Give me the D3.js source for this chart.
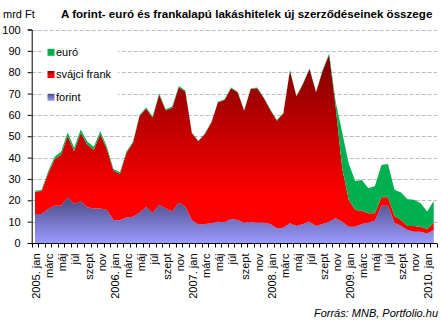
<!DOCTYPE html>
<html>
<head>
<meta charset="utf-8">
<script src="https://cdn.jsdelivr.net/npm/d3@7"></script>
<style>
  html, body { margin: 0; padding: 0; background: #fff; }
  svg { display: block; font-family: "Liberation Sans", Arial, sans-serif; }
</style>
</head>
<body>
<svg id="chart" width="442" height="323"></svg>
<script>
// Monthly categories, 2005 jan – 2010 feb
const years = [2005, 2006, 2007, 2008, 2009, 2010];
const monthNames = ["jan", "febr", "márc", "ápr", "máj", "jún", "júl", "aug", "szept", "okt", "nov", "dec"];
const categories = [];
years.forEach(yr => monthNames.forEach((m, k) => {
  if (yr === 2010 && k > 1) return;
  categories.push(k === 0 ? yr + ". " + m : m);
}));

// New housing loan contracts, billion HUF
const forint = [13.6, 13.6, 15.8, 17.5, 17.5, 21.3, 18.4, 19.4, 16.7, 16.2, 16.2, 15.5,
                10.8, 10.7, 12.0, 12.3, 14.2, 17.0, 14.0, 17.8, 16.2, 14.7, 18.9, 17.0,
                10.8, 8.7, 8.9, 9.2, 10.0, 9.7, 11.2, 10.8, 9.5, 9.8, 9.5, 9.5,
                8.9, 6.9, 7.2, 9.2, 8.0, 8.9, 10.0, 8.0, 8.9, 10.0, 11.6, 10.0,
                7.6, 7.6, 8.9, 9.5, 10.4, 17.5, 17.5, 9.5, 8.0, 6.1, 5.3, 5.3,
                4.5, 6.1];
const frank = [10.4, 10.7, 16.6, 21.7, 24.0, 28.8, 24.7, 32.2, 29.3, 27.5, 34.7, 28.4,
               23.1, 21.7, 30.3, 34.7, 45.3, 46.0, 44.7, 51.7, 45.9, 48.7, 54.1, 53.9,
               40.6, 38.9, 42.2, 47.3, 55.9, 57.3, 61.3, 59.8, 52.5, 62.3, 63.0, 58.4,
               53.4, 50.4, 53.5, 71.5, 60.6, 65.6, 71.5, 62.6, 71.7, 78.2, 52.1, 25.0,
               12.5, 7.9, 6.2, 4.4, 3.5, 3.9, 3.9, 3.1, 2.8, 1.9, 2.7, 2.3,
               1.9, 3.4];
const euro = [0.5, 0.5, 1.0, 1.2, 1.3, 1.6, 1.5, 1.6, 1.5, 1.4, 1.5, 1.2,
              0.8, 0.7, 0.5, 0.5, 0.5, 0.5, 0.5, 0.5, 0.5, 0.5, 0.5, 0.5,
              0.3, 0.3, 0.3, 0.3, 0.3, 0.3, 0.3, 0.3, 0.3, 0.3, 0.3, 0.3,
              0.3, 0.3, 0.3, 0.3, 0.3, 0.3, 0.3, 0.3, 0.4, 0.6, 2.5, 16.8,
              17.0, 13.5, 14.4, 11.7, 12.8, 15.1, 15.6, 12.4, 12.8, 12.5, 12.2, 11.0,
              8.3, 10.2];

const seriesKeys = ["forint", "frank", "euro"];
const seriesNames = { forint: "forint", frank: "svájci frank", euro: "euró" };
const yTicks = [0, 10, 20, 30, 40, 50, 60, 70, 80, 90, 100];

const rows = categories.map((c, i) => ({ idx: i, cat: c, forint: forint[i], frank: frank[i], euro: euro[i] }));

const svg = d3.select("#chart");
const plotLeft = 31.7, plotRight = 437, plotTop = 29.5, plotBottom = 243;

// Month labels repeat across years, so the band scale runs on the month index
const x = d3.scaleBand().domain(d3.range(categories.length)).range([plotLeft, plotRight]).paddingInner(0).paddingOuter(0);
const y = d3.scaleLinear().domain([0, 100]).range([plotBottom, plotTop]);
const cx = i => x(i) + x.bandwidth() / 2;

// Gradients
const defs = svg.append("defs");
const gFrank = defs.append("linearGradient").attr("id", "gFrank")
  .attr("gradientUnits", "userSpaceOnUse").attr("x1", 0).attr("x2", 0)
  .attr("y1", y(88)).attr("y2", y(22));
gFrank.append("stop").attr("offset", 0).attr("stop-color", "#7c0000");
gFrank.append("stop").attr("offset", 1).attr("stop-color", "#ff0000");
const gForint = defs.append("linearGradient").attr("id", "gForint")
  .attr("gradientUnits", "userSpaceOnUse").attr("x1", 0).attr("x2", 0)
  .attr("y1", y(21)).attr("y2", y(0));
gForint.append("stop").attr("offset", 0).attr("stop-color", "#4a4a86");
gForint.append("stop").attr("offset", 1).attr("stop-color", "#9b9bff");
const gLegFrank = defs.append("linearGradient").attr("id", "gLegFrank")
  .attr("x1", 0).attr("x2", 0).attr("y1", 0).attr("y2", 1);
gLegFrank.append("stop").attr("offset", 0).attr("stop-color", "#7c0000");
gLegFrank.append("stop").attr("offset", 0.55).attr("stop-color", "#ff0000");
const gLegForint = defs.append("linearGradient").attr("id", "gLegForint")
  .attr("x1", 0).attr("x2", 0).attr("y1", 0).attr("y2", 1);
gLegForint.append("stop").attr("offset", 0).attr("stop-color", "#4a4a86");
gLegForint.append("stop").attr("offset", 1).attr("stop-color", "#9b9bff");

const fills = { forint: "url(#gForint)", frank: "url(#gFrank)", euro: "#00b050" };
const legFills = { forint: "url(#gLegForint)", frank: "url(#gLegFrank)", euro: "#00b050" };

// Gridlines
svg.append("g").selectAll("line").data(yTicks.filter(v => v > 0)).join("line")
  .attr("x1", plotLeft).attr("x2", plotRight)
  .attr("y1", d => Math.round(y(d)) + 0.5).attr("y2", d => Math.round(y(d)) + 0.5)
  .attr("stroke", "#bdbdbd").attr("stroke-width", 1).attr("stroke-dasharray", "4,2");

// Stacked areas
const stacked = d3.stack().keys(seriesKeys)(rows);
const area = d3.area()
  .x(d => cx(d.data.idx))
  .y0(d => y(d[0]))
  .y1(d => y(d[1]));
svg.append("g").selectAll("path").data(stacked).join("path")
  .attr("d", area)
  .attr("fill", d => fills[d.key]);

// Legend
const leg = svg.append("g");
leg.append("rect").attr("x", 44).attr("y", 40).attr("width", 74).attr("height", 66).attr("fill", "#fff");
const legItems = ["euro", "frank", "forint"];
const legY = [52.3, 74.5, 97.3];
legItems.forEach((k, i) => {
  leg.append("rect").attr("x", 47.5).attr("y", legY[i] - 3.5).attr("width", 7).attr("height", 7)
    .attr("fill", legFills[k]);
  leg.append("text").attr("x", 56).attr("y", legY[i]).attr("dy", "0.36em")
    .attr("font-size", 11).attr("fill", "#000").text(seriesNames[k]);
});

// Y axis
const yAxis = svg.append("g").attr("transform", `translate(${plotLeft},0)`)
  .call(d3.axisLeft(y).tickValues(yTicks).tickSize(4).tickPadding(7));
yAxis.select(".domain").attr("stroke", "#000");
yAxis.selectAll(".tick line").attr("stroke", "#000");
yAxis.selectAll(".tick text").attr("font-size", 11).attr("fill", "#000")
  .attr("font-family", "Liberation Sans, Arial, sans-serif");

// X axis
const xg = svg.append("g").attr("transform", `translate(0,${plotBottom + 0.5})`);
xg.append("line").attr("x1", plotLeft).attr("x2", plotRight).attr("y1", 0).attr("y2", 0).attr("stroke", "#000");
const boundaries = d3.range(categories.length).map(i => x(i)).concat([plotRight]);
xg.selectAll("line.tk").data(boundaries).join("line").attr("class", "tk")
  .attr("x1", d => Math.round(d) + 0.5).attr("x2", d => Math.round(d) + 0.5)
  .attr("y1", 0).attr("y2", 4).attr("stroke", "#000");
xg.selectAll("text").data(d3.range(0, categories.length, 2)).join("text")
  .attr("transform", i => `translate(${cx(i)},10) rotate(-90)`)
  .attr("text-anchor", "end").attr("dy", "0.48em")
  .attr("font-size", 11).attr("fill", "#000").text(i => categories[i]);

// Titles and source
svg.append("text").attr("x", 3).attr("y", 18).attr("font-size", 11).attr("fill", "#000").text("mrd Ft");
svg.append("text").attr("x", 61).attr("y", 18).attr("font-size", 11.6).attr("font-weight", "bold")
  .attr("fill", "#000").text("A forint- euró és frankalapú lakáshitelek új szerződéseinek összege");
svg.append("text").attr("x", 438).attr("y", 317).attr("text-anchor", "end")
  .attr("font-size", 11).attr("font-style", "italic").attr("fill", "#000")
  .text("Forrás: MNB, Portfolio.hu");
</script>
</body>
</html>
